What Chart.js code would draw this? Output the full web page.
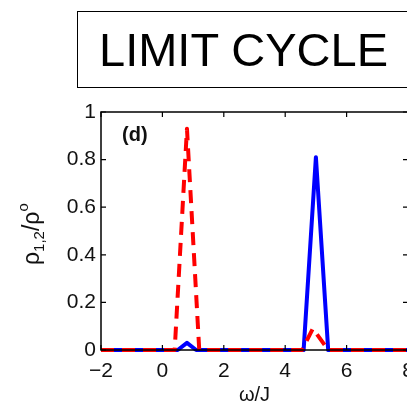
<!DOCTYPE html>
<html>
<head>
<meta charset="utf-8">
<script src="https://cdn.jsdelivr.net/npm/chart.js@4"></script>
<style>
html, body { margin: 0; padding: 0; background: #fff; overflow: hidden; width: 407px; height: 407px; }
#wrap { position: absolute; left: 0; top: 0; width: 430px; height: 407px; }
#titleBox {
    position: absolute; left: 77px; top: 11px; width: 400px; height: 75px;
    border: 1.5px solid #000; padding-left: 21px;
    font: 47px "Liberation Sans", Arial, sans-serif; line-height: 75px; color: #000;
    white-space: nowrap;
}
</style>
</head>
<body>
<div id="wrap"><canvas id="lineChart" width="430" height="407"></canvas></div>
<div id="titleBox">LIMIT CYCLE</div>
<script>
// omega/J positions and normalised densities
const X_RHO_2 = [-2, 0.4, 0.8, 1.2, 4.55, 4.9, 5.4, 8];
const Y_RHO_2 = [0, 0, 0.93, 0, 0, 0.09, 0, 0];

const X_RHO_1 = [-2, 0.5, 0.8, 1.1, 4.6, 5.0, 5.4, 8];
const Y_RHO_1 = [0, 0, 0.03, 0, 0, 0.81, 0, 0];

const X_TICKS = [-2, 0, 2, 4, 6, 8];
const Y_TICKS = [0, 0.2, 0.4, 0.6, 0.8, 1];

const FONT = '"Liberation Sans", Arial, sans-serif';

function toPoints(xs, ys) {
    return xs.map((x, i) => ({ x: x, y: ys[i] }));
}

// matlab style box with inward ticks, panel tag and y label
const matlabFrame = {
    id: 'matlabFrame',
    afterDraw(chart) {
        const ctx = chart.ctx;
        const a = chart.chartArea;
        const sx = chart.scales.x, sy = chart.scales.y;
        ctx.save();
        ctx.strokeStyle = '#000';
        ctx.lineWidth = 1.5;
        ctx.strokeRect(a.left, a.top, a.right - a.left, a.bottom - a.top);
        ctx.lineWidth = 1.2;
        ctx.beginPath();
        X_TICKS.forEach(v => {
            const px = sx.getPixelForValue(v);
            ctx.moveTo(px, a.bottom); ctx.lineTo(px, a.bottom - 5);
            ctx.moveTo(px, a.top); ctx.lineTo(px, a.top + 5);
        });
        Y_TICKS.forEach(v => {
            const py = sy.getPixelForValue(v);
            ctx.moveTo(a.left, py); ctx.lineTo(a.left + 5, py);
            ctx.moveTo(a.right, py); ctx.lineTo(a.right - 5, py);
        });
        ctx.stroke();

        ctx.fillStyle = '#111';
        ctx.font = 'bold 20px ' + FONT;
        ctx.textBaseline = 'alphabetic';
        ctx.fillText('(d)', a.left + 21, a.top + 29);

        // rho_{1,2}/rho^o written upward
        ctx.translate(39, 265);
        ctx.rotate(-Math.PI / 2);
        let x = 0;
        const parts = [
            { t: 'ρ', size: 23, dy: 0 },
            { t: '1,2', size: 15, dy: 5 },
            { t: '/ρ', size: 23, dy: 0 },
            { t: 'o', size: 15, dy: -11 }
        ];
        parts.forEach(p => {
            ctx.font = p.size + 'px ' + FONT;
            ctx.fillText(p.t, x, p.dy);
            x += ctx.measureText(p.t).width;
        });
        ctx.restore();
    }
};

const dataLineChart = {
    datasets: [
        {
            label: 'rho2',
            data: toPoints(X_RHO_2, Y_RHO_2),
            borderColor: 'rgb(255, 0, 0)',
            borderWidth: 4,
            borderDash: [13, 8],
            borderJoinStyle: 'round',
            pointRadius: 0,
            tension: 0,
            clip: false,
            order: 0
        },
        {
            label: 'rho1',
            data: toPoints(X_RHO_1, Y_RHO_1),
            borderColor: 'rgb(0, 0, 255)',
            borderWidth: 4,
            borderJoinStyle: 'round',
            pointRadius: 0,
            tension: 0,
            clip: false,
            order: 1
        }
    ]
};

const configLineChart = {
    type: 'line',
    data: dataLineChart,
    options: {
        responsive: false,
        animation: false,
        layout: { padding: { top: 112, right: 22, left: 0, bottom: 0 } },
        plugins: {
            legend: { display: false },
            tooltip: { enabled: false }
        },
        scales: {
            x: {
                type: 'linear',
                min: -2,
                max: 8,
                afterFit(scale) { scale.height = 57; },
                afterBuildTicks(scale) { scale.ticks = X_TICKS.map(v => ({ value: v })); },
                grid: { display: false, drawTicks: false },
                border: { display: false },
                ticks: {
                    padding: 9,
                    color: '#111',
                    font: { family: FONT, size: 21 },
                    callback: v => (v < 0 ? '\u2212' + Math.abs(v) : String(v))
                },
                title: {
                    display: true,
                    text: 'ω/J',
                    color: '#111',
                    font: { family: FONT, size: 20 },
                    padding: { top: 0, bottom: 0 }
                }
            },
            y: {
                type: 'linear',
                min: 0,
                max: 1,
                afterFit(scale) { scale.width = 101; },
                afterBuildTicks(scale) { scale.ticks = Y_TICKS.map(v => ({ value: v })); },
                grid: { display: false, drawTicks: false },
                border: { display: false },
                ticks: {
                    padding: 5,
                    color: '#111',
                    font: { family: FONT, size: 21 },
                    callback: v => String(Math.round(v * 10) / 10)
                }
            }
        }
    },
    plugins: [matlabFrame]
};

var lineChart = new Chart(
    document.getElementById('lineChart'),
    configLineChart
);
</script>
</body>
</html>
